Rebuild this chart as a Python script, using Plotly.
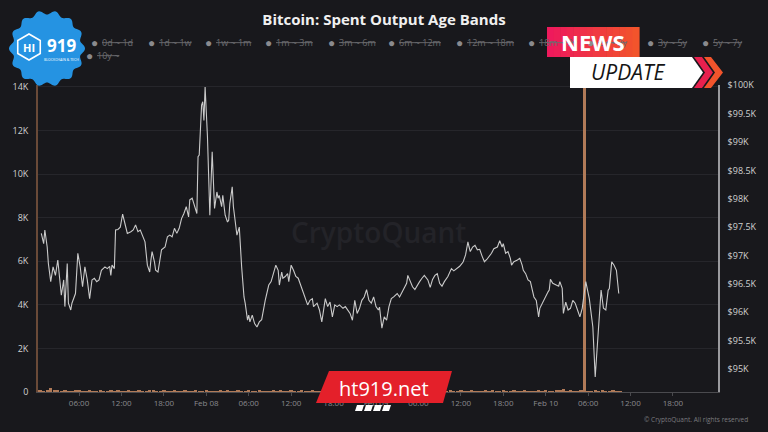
import math
import numpy as np
import pandas as pd
import plotly.graph_objects as go

# ---------------- data ----------------
start = pd.Timestamp("2025-02-07 00:00")

# price line: minutes after Feb 07 00:00 and BTC price (USD)
price_minutes = [
    40, 60, 70, 90, 100, 120, 140, 160, 180, 190,
    210, 230, 240, 260, 270, 290, 300, 330, 350, 370,
    390, 410, 430, 450, 470, 490, 510, 530, 550, 580,
    600, 620, 630, 640, 660, 670, 690, 710, 730, 750,
    770, 800, 820, 840, 860, 880, 900, 920, 940, 960,
    970, 980, 1000, 1010, 1030, 1050, 1060, 1090, 1110, 1130,
    1150, 1170, 1190, 1210, 1230, 1250, 1270, 1290, 1300, 1320,
    1340, 1360, 1370, 1380, 1400, 1410, 1420, 1430, 1450, 1470,
    1490, 1510, 1530, 1540, 1550, 1570, 1580, 1600, 1620, 1630,
    1640, 1660, 1670, 1690, 1700, 1720, 1730, 1740, 1760, 1770,
    1790, 1800, 1810, 1830, 1850, 1870, 1890, 1910, 1940, 1970,
    1990, 2010, 2030, 2050, 2060, 2080, 2090, 2110, 2130, 2140,
    2160, 2180, 2200, 2220, 2240, 2260, 2280, 2300, 2320, 2340,
    2350, 2380, 2400, 2420, 2450, 2470, 2490, 2510, 2530, 2550,
    2570, 2600, 2620, 2640, 2660, 2680, 2700, 2720, 2740, 2760,
    2780, 2800, 2820, 2840, 2860, 2880, 2900, 2910, 2930, 2950,
    2970, 2990, 3010, 3030, 3060, 3080, 3100, 3120, 3140, 3150,
    3170, 3190, 3210, 3230, 3250, 3270, 3290, 3320, 3340, 3360,
    3380, 3400, 3420, 3440, 3460, 3490, 3510, 3520, 3540, 3570,
    3590, 3610, 3620, 3640, 3660, 3670, 3680, 3700, 3720, 3740,
    3760, 3780, 3800, 3820, 3840, 3860, 3880, 3910, 3930, 3950,
    3960, 3980, 4000, 4020, 4030, 4050, 4080, 4100, 4120, 4130,
    4150, 4170, 4190, 4200, 4220, 4240, 4260, 4270, 4290, 4310,
    4340, 4350, 4360, 4380, 4410, 4430, 4440, 4460, 4470, 4490,
    4510, 4530, 4550, 4570, 4590, 4610, 4630, 4650, 4660, 4690,
    4720, 4740, 4760, 4790, 4810, 4830, 4850, 4860, 4880, 4900,
    4920, 4940,
]
price_usd = [
    97390, 97210, 97450, 97150, 96860, 96540, 96800, 96650, 96920, 96680,
    96300, 96570, 96100, 96860, 96160, 96040, 96160, 96330, 97040, 96800,
    96450, 96800, 96570, 96240, 96570, 96600, 96540, 96570, 96740, 96800,
    96770, 96810, 96650, 96830, 96770, 97450, 97460, 97500, 97730, 97560,
    97390, 97420, 97450, 97540, 97420, 97450, 97330, 97240, 96830, 96710,
    96920, 97070, 96890, 96740, 96710, 96950, 97100, 97150, 97330, 97360,
    97330, 97480, 97390, 97480, 97650, 97740, 97860, 97680, 97980, 98010,
    97860, 97740, 98740, 98770, 99650, 99710, 99380, 99970, 99090, 97710,
    98830, 97830, 98120, 98010, 98060, 97860, 98060, 97710, 97590, 97620,
    97920, 98210, 97860, 97560, 97360, 97500, 97010, 96800, 96270, 96160,
    95860, 95950, 95830, 95950, 95800, 95740, 95830, 95870, 96210, 96480,
    96540, 96710, 96830, 96740, 96480, 96710, 96600, 96630, 96680, 96540,
    96830, 96740, 96630, 96600, 96480, 96390, 96240, 96130, 96210, 96240,
    96100, 96160, 96040, 95830, 96240, 96100, 96180, 95920, 96130, 96100,
    96130, 96070, 96100, 96040, 95980, 95860, 96210, 95980, 96070, 96210,
    96270, 96400, 96210, 96160, 96270, 96100, 96040, 96090, 95720, 95920,
    95860, 96100, 96240, 96270, 96330, 96270, 96360, 96440, 96510, 96650,
    96540, 96450, 96400, 96480, 96540, 96600, 96650, 96570, 96440, 96580,
    96650, 96680, 96510, 96460, 96540, 96630, 96710, 96770, 96730, 96770,
    96810, 96860, 96890, 97010, 97240, 97150, 97070, 97150, 97180, 97100,
    97110, 96990, 96890, 96930, 96980, 97040, 97120, 97150, 97260, 97150,
    97210, 97040, 97070, 96950, 96830, 96890, 96920, 96950, 96830, 96740,
    96680, 96570, 96540, 96450, 96270, 96210, 95920, 96070, 96160, 96240,
    96360, 96390, 96580, 96510, 96480, 96460, 96540, 96420, 95980, 96180,
    96040, 96070, 96210, 96160, 96040, 95920, 96070, 96390, 96540, 96240,
    95740, 94860, 95510, 96390, 96070, 96040, 96390, 96420, 96890, 96830,
    96740, 96330,
]

# spent output (BTC), 30-minute bars from Feb 07 00:00
spent_btc = [
    50, 55, 45, 60, 190, 70, 50, 40, 55, 45,
    45, 50, 55, 40, 45, 60, 45, 45, 50, 40,
    45, 55, 45, 50, 45, 40, 55, 45, 45, 50,
    45, 45, 55, 50, 40, 45, 50, 45, 45, 55,
    45, 45, 50, 40, 45, 55, 45, 45, 50, 45,
    45, 40, 50, 45, 55, 45, 45, 50, 40, 45,
    55, 45, 45, 50, 45, 45, 40, 50, 45, 55,
    45, 45, 50, 40, 45, 55, 45, 45, 50, 45,
    45, 40, 50, 45, 55, 45, 45, 50, 40, 45,
    55, 45, 45, 50, 45, 45, 40, 50, 45, 55,
    45, 45, 50, 40, 45, 55, 45, 45, 50, 45,
    45, 40, 50, 45, 55, 45, 45, 50, 40, 45,
    55, 45, 45, 50, 45, 45, 40, 50, 45, 55,
    45, 45, 50, 40, 45, 55, 45, 45, 50, 45,
    45, 40, 50, 45, 55, 45, 45, 50, 55, 120,
    45, 50, 45, 45, 55, 32000, 45, 45, 50, 45,
    55, 45, 45, 50, 45, 45,
]

left_ticks = [0, 2000, 4000, 6000, 8000, 10000, 12000, 14000]
left_labels = ["0", "2K", "4K", "6K", "8K", "10K", "12K", "14K"]
right_ticks = [95000, 95500, 96000, 96500, 97000, 97500, 98000, 98500, 99000, 99500, 100000]
right_labels = ["$95K", "$95.5K", "$96K", "$96.5K", "$97K", "$97.5K", "$98K",
                "$98.5K", "$99K", "$99.5K", "$100K"]
x_tick_times = ["2025-02-07 06:00", "2025-02-07 12:00", "2025-02-07 18:00",
                "2025-02-08 00:00", "2025-02-08 06:00", "2025-02-08 12:00", "2025-02-08 18:00",
                "2025-02-09 00:00", "2025-02-09 06:00", "2025-02-09 12:00", "2025-02-09 18:00",
                "2025-02-10 00:00", "2025-02-10 06:00", "2025-02-10 12:00", "2025-02-10 18:00"]
x_tick_labels = ["06:00", "12:00", "18:00", "Feb 08", "06:00", "12:00", "18:00",
                 "Feb 09", "06:00", "12:00", "18:00", "Feb 10", "06:00", "12:00", "18:00"]

band_labels = ["0d ~ 1d", "1d ~ 1w", "1w ~ 1m", "1m ~ 3m", "3m ~ 6m", "6m ~ 12m",
               "12m ~ 18m", "18m ~ 2y", "2y ~ 3y", "3y ~ 5y", "5y ~ 7y", "10y ~"]

# ---------------- layout helpers (pixel -> paper) ----------------
L, R, T, B = 38, 718, 85, 392
W, H = 768, 432


def px(x):
    return (x - L) / (R - L)


def py(y):
    return (B - y) / (B - T)


def P(x, y):
    return f"{px(x):.5f},{py(y):.5f}"


def poly(pts):
    return "M " + " L ".join(P(x, y) for x, y in pts) + " Z"


BG = "#18181c"
FONT = "Open Sans"

price_times = start + pd.to_timedelta(price_minutes, unit="m")
n = min(len(price_times), len(price_usd))
spent_times = start + pd.to_timedelta(np.arange(len(spent_btc)) * 30, unit="m")

fig = go.Figure()
fig.add_trace(go.Bar(
    x=spent_times, y=spent_btc, yaxis="y",
    width=30 * 60 * 1000 * 0.95,
    marker=dict(color="#b07a58", line=dict(width=0)),
    name="Spent", showlegend=False,
))
fig.add_trace(go.Scatter(
    x=price_times[:n], y=price_usd[:n], yaxis="y2", mode="lines",
    line=dict(color="#cacaca", width=1.1),
    name="Price", showlegend=False,
))

shapes = []
ann = []

# legend (all bands toggled off)
row1_cx = [94, 151, 208, 268, 331, 391, 459, 531, 590, 650, 705]
for lab, cx in zip(band_labels[:11], row1_cx):
    ann.append(dict(x=px(cx), y=py(43), text="●", showarrow=False, xref="paper", yref="paper",
                    font=dict(size=12, color="#8a8a8e", family=FONT), xanchor="center", yanchor="middle"))
    ann.append(dict(x=px(cx + 6), y=py(43), text=f"<s>{lab}</s>", showarrow=False,
                    xref="paper", yref="paper", font=dict(size=9, color="#6c6c70", family=FONT),
                    xanchor="left", yanchor="middle"))
ann.append(dict(x=px(89), y=py(56), text="●", showarrow=False, xref="paper", yref="paper",
                font=dict(size=12, color="#8a8a8e", family=FONT), xanchor="center", yanchor="middle"))
ann.append(dict(x=px(95), y=py(56), text=f"<s>{band_labels[11]}</s>", showarrow=False,
                xref="paper", yref="paper", font=dict(size=9, color="#6c6c70", family=FONT),
                xanchor="left", yanchor="middle"))

# watermark and copyright
ann.append(dict(x=px(378), y=py(232), text="CryptoQuant", showarrow=False, xref="paper", yref="paper",
                font=dict(size=28, color="#232328", family=FONT, weight=600),
                xanchor="center", yanchor="middle"))
ann.append(dict(x=px(750), y=py(419), text="© CryptoQuant. All rights reserved", showarrow=False,
                xref="paper", yref="paper", font=dict(size=6.5, color="#7a7a7e", family=FONT),
                xanchor="right", yanchor="middle"))

# --- HT919 badge (top-left) ---
badge = []
for k in range(241):
    t = 2 * math.pi * k / 240
    r = 36 + 2.0 * math.cos(14 * t)
    badge.append((47 + r * math.cos(t), 48.5 + r * math.sin(t)))
shapes.append(dict(type="path", path=poly(badge), xref="paper", yref="paper",
                   fillcolor="#2593e2", line=dict(width=0), layer="above"))
hexa = [(29 + 13 * math.cos(math.pi / 6 + k * math.pi / 3), 47 + 13 * math.sin(math.pi / 6 + k * math.pi / 3))
        for k in range(6)]
shapes.append(dict(type="path", path=poly(hexa), xref="paper", yref="paper",
                   fillcolor="rgba(0,0,0,0)", line=dict(width=1.6, color="white"), layer="above"))
ann.append(dict(x=px(29), y=py(48), text="<b>HI</b>", showarrow=False, xref="paper", yref="paper",
                font=dict(size=11, color="white", family=FONT), xanchor="center", yanchor="middle"))
ann.append(dict(x=px(61), y=py(46), text="<b>919</b>", showarrow=False, xref="paper", yref="paper",
                font=dict(size=17, color="white", family=FONT), xanchor="center", yanchor="middle"))
ann.append(dict(x=px(61), y=py(60), text="BLOCKCHAIN & TECH", showarrow=False, xref="paper", yref="paper",
                font=dict(size=3.5, color="white", family=FONT), xanchor="center", yanchor="middle"))

# --- NEWS UPDATE banner (top-right) ---
c0, c1 = (238, 26, 92), (242, 84, 44)
nstrip = 14
x0n, x1n = 547, 639
for i in range(nstrip):
    f = i / (nstrip - 1)
    col = "rgb({},{},{})".format(*[int(a + (b - a) * f) for a, b in zip(c0, c1)])
    xa = x0n + (x1n - x0n) * i / nstrip
    xb = x0n + (x1n - x0n) * (i + 1) / nstrip + 0.6
    shapes.append(dict(type="path", path=poly([(xa, 27), (xb, 27), (xb, 57), (xa, 57)]),
                       xref="paper", yref="paper", fillcolor=col, line=dict(width=0), layer="above"))
ann.append(dict(x=px(593), y=py(42.5), text="<b>NEWS</b>", showarrow=False, xref="paper", yref="paper",
                font=dict(size=22, color="white", family=FONT), xanchor="center", yanchor="middle"))
shapes.append(dict(type="path", path=poly([(570, 57), (692, 57), (703, 72.5), (692, 88), (570, 88)]),
                   xref="paper", yref="paper", fillcolor="white", line=dict(width=0), layer="above"))
shapes.append(dict(type="path",
                   path=poly([(694, 57), (702, 57), (713, 72.5), (702, 88), (694, 88), (705, 72.5)]),
                   xref="paper", yref="paper", fillcolor="#e8204e", line=dict(width=0), layer="above"))
shapes.append(dict(type="path",
                   path=poly([(704, 57), (711, 57), (723, 72.5), (711, 88), (704, 88), (715, 72.5)]),
                   xref="paper", yref="paper", fillcolor="#f2542c", line=dict(width=0), layer="above"))
ann.append(dict(x=px(628), y=py(72), text="<i>UPDATE</i>", showarrow=False, xref="paper", yref="paper",
                font=dict(size=21, color="#151515", family=FONT), xanchor="center", yanchor="middle"))

# --- ht919.net banner (bottom) ---
shapes.append(dict(type="path", path=poly([(329, 371), (452, 371), (443, 403), (316, 403)]),
                   xref="paper", yref="paper", fillcolor="#e4202a", line=dict(width=0), layer="above"))
for i in range(4):
    xs = 355 + i * 9
    shapes.append(dict(type="path", path=poly([(xs + 2, 405), (xs + 9, 405), (xs + 7, 411), (xs, 411)]),
                       xref="paper", yref="paper", fillcolor="white", line=dict(width=0), layer="above"))
ann.append(dict(x=px(384), y=py(388), text="ht919.net", showarrow=False, xref="paper", yref="paper",
                font=dict(size=20, color="white", family=FONT), xanchor="center", yanchor="middle"))

fig.update_layout(
    width=W, height=H,
    margin=dict(l=L, r=W - R, t=T, b=H - B, pad=0),
    paper_bgcolor=BG, plot_bgcolor=BG,
    font=dict(family=FONT, color="#cfcfcf"),
    title=dict(text="<b>Bitcoin: Spent Output Age Bands</b>", x=0.5, xanchor="center",
               y=1 - 20 / H, yanchor="middle", font=dict(size=15, color="#f0f0f0", family=FONT)),
    showlegend=False,
    bargap=0,
    xaxis=dict(
        type="date",
        range=["2025-02-07 00:12", "2025-02-11 00:22"],
        tickvals=x_tick_times, ticktext=x_tick_labels,
        tickfont=dict(size=8, color="#8a8a8e", family=FONT),
        showgrid=False, zeroline=False,
        showline=True, linecolor="#4a4a4e", linewidth=1,
        ticks="outside", ticklen=3, tickcolor="#4a4a4e",
        layer="below traces",
    ),
    yaxis=dict(
        range=[0, 14090],
        tickvals=left_ticks, ticktext=left_labels,
        tickfont=dict(size=9, color="#d0d0d0", family=FONT),
        showgrid=True, gridcolor="#26262b", gridwidth=1,
        zeroline=False,
        showline=True, linecolor="#6a4a38", linewidth=1.6,
        ticks="", ticklabelstandoff=6,
    ),
    yaxis2=dict(
        overlaying="y", side="right",
        range=[94595, 100005],
        tickvals=right_ticks, ticktext=right_labels,
        tickfont=dict(size=9, color="#d0d0d0", family=FONT),
        showgrid=False, zeroline=False,
        showline=True, linecolor="#9a9a9e", linewidth=1.6,
        ticks="", ticklabelstandoff=6,
    ),
    shapes=shapes,
    annotations=ann,
)

fig.write_html(
    "out.html",
    config={"displayModeBar": False},
    post_script="document.body.style.margin='0';document.body.style.background='" + BG + "';",
)
